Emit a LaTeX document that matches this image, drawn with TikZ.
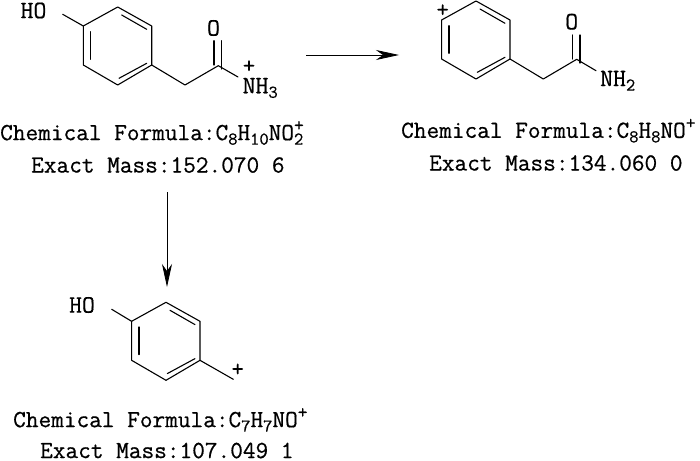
\documentclass[tikz,border=0pt]{standalone}
\usepackage{amsmath,amssymb}
\usepackage{fontspec}
\setmonofont[FakeBold=0.6]{Latin Modern Mono}
\usepackage{tikz}
\usetikzlibrary{arrows.meta}
\newcommand{\massfont}{\fontsize{24.6}{28}\selectfont\ttfamily}
\newcommand{\atomfont}{\fontsize{25}{28}\selectfont\ttfamily}
\newcommand{\subdigit}[1]{\raisebox{-4.5pt}{\fontsize{18}{18}\selectfont #1}}
\newcommand{\supplus}{\raisebox{9pt}{\fontsize{19}{19}\selectfont +}}
\newcommand{\subsupdigit}[1]{\rlap{\supplus}\subdigit{#1}}
\tikzset{
  bond/.style={line width=1.1pt,line cap=round,line join=round},
  react/.style={line width=0.8pt,-{Stealth[length=23pt,width=10pt,inset=7pt]}},
  masstext/.style={inner sep=0pt,anchor=west,font=\massfont},
  atom/.style={inner sep=0pt,font=\atomfont},
  charge/.style={inner sep=0pt,font=\fontsize{24}{24}\selectfont\ttfamily},
  benzene/.pic={
    \coordinate (-t) at (0,0);
    \coordinate (-ur) at (34,19);
    \coordinate (-lr) at (34,58);
    \coordinate (-b) at (0,78);
    \coordinate (-ll) at (-34.4,58);
    \coordinate (-ul) at (-34.4,19);
    \draw[bond] (-t)--(-ur)--(-lr)--(-b)--(-ll)--(-ul)--cycle;
    \draw[bond] (-27,24.7)--(-27,52.3);
    \draw[bond] (4,8)--(29,22.3);
    \draw[bond] (1.3,71.3)--(29,56.3);
  }
}
\begin{document}
\begin{tikzpicture}[x=1pt,y=-1pt]
\useasboundingbox (0,0) rectangle (700,460);
% precursor
\pic (ra) at (117.7,7) {benzene};
\coordinate (ra-oh) at (62.7,14.3);
\coordinate (ra-c) at (185,85);
\coordinate (ra-co) at (218.3,65.7);
\coordinate (ra-n) at (238,77);
\draw[bond] (ra-ul)--(ra-oh);
\draw[bond] (ra-lr)--(ra-c)--(ra-co)--(ra-n);
\draw[bond] (214,40.7)--(214,65);
\draw[bond] (221.7,40.7)--(221.7,69);
\node[atom] (hoa) at (33.5,10.5) {HO};
\node[atom] (oa) at (213.5,28) {O};
\node[charge] (pa) at (249,66.7) {+};
\node[atom,anchor=west] (nha) at (242.5,88) {NH\subdigit{3}};
\node[masstext] (fa) at (0,133) {Chemical Formula:C\subdigit{8}H\subdigit{10}NO\subsupdigit{2}};
\node[masstext] (ma) at (31,165) {Exact Mass:152.070 6};
% after loss of NH3
\pic (rb) at (476,1) {benzene};
\coordinate (rb-c) at (543.3,79);
\coordinate (rb-co) at (576.7,59.3);
\coordinate (rb-n) at (596,70.7);
\draw[bond] (rb-lr)--(rb-c)--(rb-co)--(rb-n);
\draw[bond] (572.7,35)--(572.7,59);
\draw[bond] (580,35)--(580,63);
\node[charge] (pb) at (442.7,10.7) {+};
\node[atom] (ob) at (571.7,21.7) {O};
\node[atom,anchor=west] (nhb) at (600,80.7) {NH\subdigit{2}};
\node[masstext] (fb) at (401,130.7) {Chemical Formula:C\subdigit{8}H\subdigit{8}NO\supplus};
\node[masstext] (mb) at (429,163) {Exact Mass:134.060 0};
% benzyl fragment
\pic (rc) at (166,302.3) {benzene};
\coordinate (rc-oh) at (111.7,309.3);
\coordinate (rc-ch) at (233.3,379.3);
\draw[bond] (rc-ul)--(rc-oh);
\draw[bond] (rc-lr)--(rc-ch);
\node[atom] (hoc) at (82,305) {HO};
\node[charge] (pc) at (237.7,370) {+};
\node[masstext] (fc) at (13,420) {Chemical Formula:C\subdigit{7}H\subdigit{7}NO\supplus};
\node[masstext] (mc) at (40,450.5) {Exact Mass:107.049 1};
% arrows
\coordinate (aa) at (306,55);
\coordinate (ab) at (399,55);
\coordinate (ba) at (167,192);
\coordinate (bb) at (167,287);
\draw[react] (aa)--(ab);
\draw[react] (ba)--(bb);
\end{tikzpicture}
\end{document}
